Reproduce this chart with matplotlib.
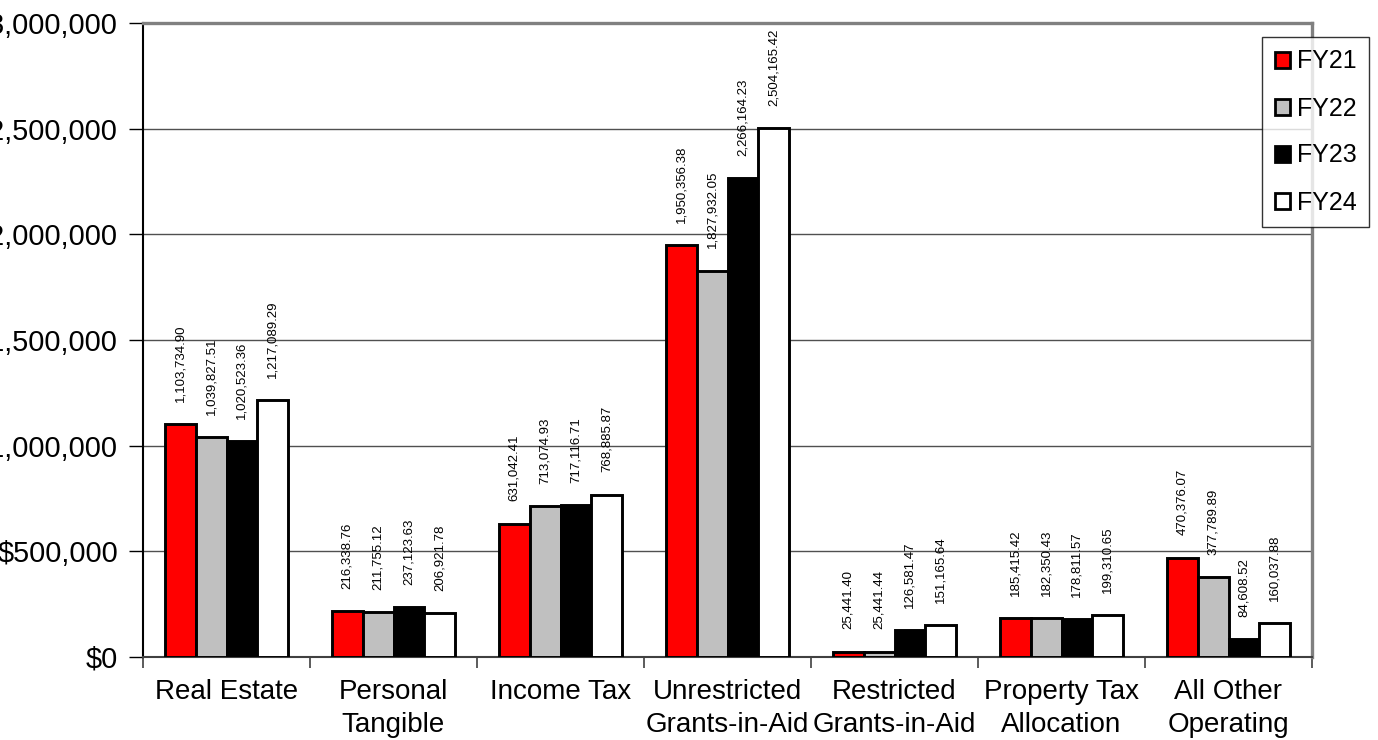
import matplotlib
matplotlib.use("Agg")
import matplotlib.pyplot as plt
from matplotlib.patches import Patch
import numpy as np

plt.rcParams['font.family'] = ['Liberation Sans', 'DejaVu Sans']

categories = ["Real Estate", "Personal\nTangible", "Income Tax", "Unrestricted\nGrants-in-Aid",
              "Restricted\nGrants-in-Aid", "Property Tax\nAllocation", "All Other\nOperating"]
years = ["FY21", "FY22", "FY23", "FY24"]

fy21 = [1103734.90, 216338.76, 631042.41, 1950356.38, 25441.40, 185415.42, 470376.07]
fy22 = [1039827.51, 211755.12, 713074.93, 1827932.05, 25441.44, 182350.43, 377789.89]
fy23 = [1020523.36, 237123.63, 717116.71, 2266164.23, 126581.47, 178811.57, 84608.52]
fy24 = [1217089.29, 206921.78, 768885.87, 2504165.42, 151165.64, 199310.65, 160037.88]

series = [fy21, fy22, fy23, fy24]
colors = ["#FF0000", "#C0C0C0", "#000000", "#FFFFFF"]

fig = plt.figure(figsize=(13.78, 7.40), dpi=100)
ax = fig.add_axes([143/1378, 1-657/740, (1312-143)/1378, (657-23)/740])

w = 0.185
x = np.arange(len(categories)) + 0.5
for k, vals in enumerate(series):
    pos = x + (k - 1.5) * w
    ax.bar(pos, vals, width=w, color=colors[k], edgecolor="black", linewidth=2.1, zorder=3)
    for p, v in zip(pos, vals):
        ax.annotate(f"{v:,.2f}", (p, v), xytext=(0, 16), textcoords="offset points",
                    rotation=90, ha="center", va="bottom", fontsize=9.5, zorder=4)

ax.set_xlim(0, len(categories))
ax.set_ylim(0, 3000000)
ax.set_yticks(np.arange(0, 3000001, 500000))
ax.set_yticklabels([f"${v:,.0f}" for v in np.arange(0, 3000001, 500000)])
ax.yaxis.grid(True, color="#505050", linewidth=1.0, zorder=0)
ax.set_axisbelow(True)

ax.set_xticks(x)
ax.set_xticklabels(categories, linespacing=1.35)
ax.set_xticks(np.arange(0, len(categories) + 1), minor=True)
ax.tick_params(axis="x", which="major", length=0, labelsize=20, pad=16)
ax.tick_params(axis="x", which="minor", length=8, width=1.2, color="#404040")
ax.tick_params(axis="y", length=10, width=1, labelsize=20.8, pad=8)

for s in ["top", "right"]:
    ax.spines[s].set_color("#808080")
    ax.spines[s].set_linewidth(2.4)
ax.spines["left"].set_color("black")
ax.spines["left"].set_linewidth(1.5)
ax.spines["bottom"].set_color("#404040")
ax.spines["bottom"].set_linewidth(1.5)

handles = [Patch(facecolor=c, edgecolor="black", linewidth=2.0) for c in colors]
leg = fig.legend(handles, years, loc="upper left", bbox_to_anchor=(1262/1378, 1-37/740),
                 fontsize=18, frameon=True, fancybox=False, shadow=False,
                 handlelength=0.6, handleheight=0.6, handletextpad=0.3,
                 labelspacing=0.92, borderpad=0.5, borderaxespad=0)
leg.get_frame().set_edgecolor("black")
leg.get_frame().set_linewidth(1.0)

fig.savefig("out.png", dpi=100)
